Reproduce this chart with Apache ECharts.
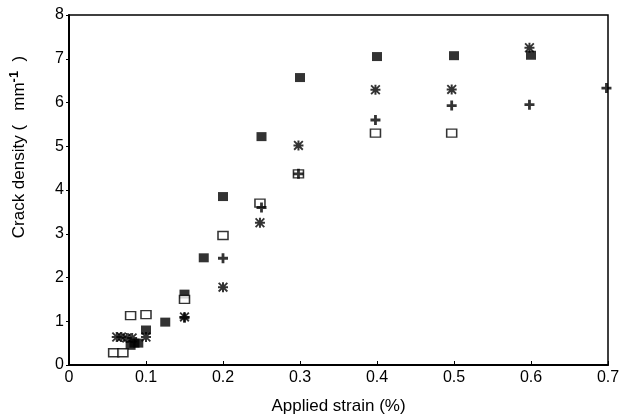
<!DOCTYPE html>
<html>
<head>
<meta charset="utf-8">
<script src="https://cdn.jsdelivr.net/npm/echarts@6/dist/echarts.min.js"></script>
<style>
  html, body { margin: 0; padding: 0; background: #fff; }
  #chart { width: 624px; height: 420px; }
</style>
</head>
<body>
<div id="chart"></div>
<script>
// x ticks and y ticks
const xTicks = [0, 0.1, 0.2, 0.3, 0.4, 0.5, 0.6, 0.7]
const yTicks = [0, 1, 2, 3, 4, 5, 6, 7, 8]

// [strain %, crack density]
const filledSquares = [
  [0.08, 0.45], [0.085, 0.5], [0.09, 0.5], [0.1, 0.8], [0.125, 0.98],
  [0.15, 1.62], [0.175, 2.45], [0.2, 3.85], [0.25, 5.22], [0.3, 6.57],
  [0.4, 7.05], [0.5, 7.07], [0.6, 7.08]
]
const openSquares = [
  [0.058, 0.28], [0.07, 0.28], [0.08, 1.13], [0.1, 1.15], [0.15, 1.5],
  [0.2, 2.96], [0.248, 3.7], [0.298, 4.37], [0.398, 5.3], [0.497, 5.3]
]
const asterisks = [
  [0.062, 0.64], [0.068, 0.64], [0.075, 0.62], [0.082, 0.62], [0.1, 0.64],
  [0.15, 1.1], [0.2, 1.78], [0.248, 3.25], [0.298, 5.02], [0.398, 6.29],
  [0.497, 6.3], [0.598, 7.25]
]
const crosses = [
  [0.15, 1.08], [0.2, 2.44], [0.25, 3.6], [0.298, 4.37], [0.398, 5.6],
  [0.497, 5.93], [0.598, 5.95], [0.698, 6.33]
]

const plusPath = "path://M3.6,0h2.8v3.6h3.6v2.8h-3.6v3.6h-2.8v-3.6h-3.6v-2.8h3.6z"
const starPath = "path://M4,0h2v10h-2z M0,4h10v2h-10z M1.3,0L10,8.7L8.7,10L0,1.3Z M8.7,0L10,1.3L1.3,10L0,8.7Z"

const chart = echarts.init(document.getElementById("chart"))

const axisFont = { fontFamily: "Liberation Sans, Arial, sans-serif", fontSize: 16, color: "#000" }

const option = {
  animation: false,
  backgroundColor: "#fff",
  grid: {
    left: 67,
    right: 16,
    top: 15,
    bottom: 55,
    show: true,
    borderColor: "#000",
    borderWidth: 1.5
  },
  xAxis: {
    type: "value",
    min: 0,
    max: 0.7,
    interval: 0.1,
    name: "Applied strain (%)",
    nameLocation: "middle",
    nameGap: 33,
    nameTextStyle: { ...axisFont, fontSize: 17 },
    axisLine: { lineStyle: { color: "#000", width: 2 } },
    axisTick: { inside: true, length: 4, lineStyle: { color: "#000" } },
    axisLabel: {
      ...axisFont,
      margin: 5,
      formatter: (v) => {
        const t = xTicks.find((x) => Math.abs(x - v) < 1e-9)
        return t === 0 ? "0" : t.toFixed(1)
      }
    },
    splitLine: { show: false }
  },
  yAxis: {
    type: "value",
    min: 0,
    max: 8,
    interval: 1,
    name: "Crack density (   mm{sup|-1}  )",
    nameLocation: "middle",
    nameGap: 38,
    nameTextStyle: {
      ...axisFont,
      fontSize: 17,
      padding: [0, 0, 0, 86],
      rich: {
        sup: { fontFamily: "Liberation Sans, Arial, sans-serif", fontSize: 13, fontWeight: "bold", color: "#000", verticalAlign: "top", padding: [0, 0, 10, 0] }
      }
    },
    axisLine: { lineStyle: { color: "#000", width: 2 } },
    axisTick: { length: 3, lineStyle: { color: "#000" } },
    axisLabel: {
      ...axisFont,
      margin: 5,
      formatter: (v) => String(yTicks.find((y) => y === v))
    },
    splitLine: { show: false }
  },
  series: [
    {
      name: "filled",
      type: "scatter",
      data: filledSquares,
      symbol: "rect",
      symbolSize: [10, 9],
      itemStyle: { color: "#000" }
    },
    {
      name: "open",
      type: "scatter",
      data: openSquares,
      symbol: "rect",
      symbolSize: [10, 8],
      itemStyle: { color: "#fff", borderColor: "#000", borderWidth: 1.4 }
    },
    {
      name: "asterisk",
      type: "scatter",
      data: asterisks,
      symbol: starPath,
      symbolSize: 10,
      itemStyle: { color: "#000" }
    },
    {
      name: "cross",
      type: "scatter",
      data: crosses,
      symbol: plusPath,
      symbolSize: 10,
      itemStyle: { color: "#000" }
    }
  ]
}

chart.setOption(option)
</script>
</body>
</html>
